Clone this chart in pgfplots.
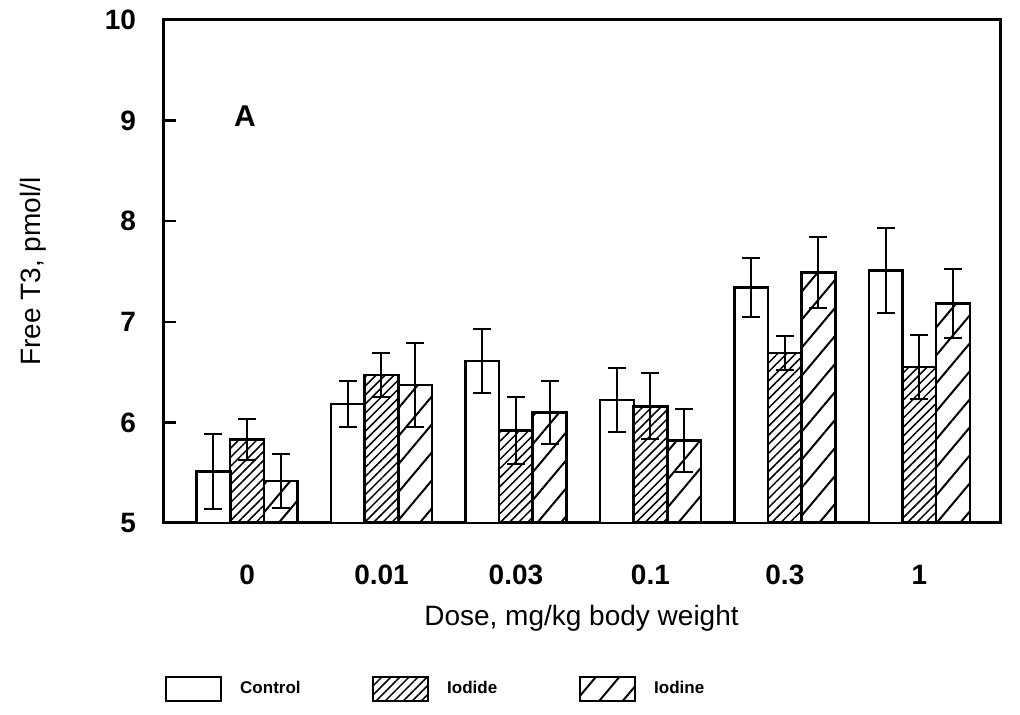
\documentclass[border=0pt]{standalone}
\usepackage{pgfplots}
\pgfplotsset{compat=1.18}
\usepackage{pgfplotstable}
\usepackage{fontspec}
\setmainfont{Liberation Sans}
\usetikzlibrary{patterns.meta}

\pgfplotstableread{
x y e
-0.25 5.51 0.37
0.75 6.18 0.23
1.75 6.61 0.32
2.75 6.22 0.32
3.75 7.34 0.29
4.75 7.51 0.42
}\control
\pgfplotstableread{
x y e
0 5.83 0.20
1 6.47 0.22
2 5.92 0.33
3 6.16 0.33
4 6.69 0.17
5 6.55 0.32
}\iodide
\pgfplotstableread{
x y e
0.25 5.42 0.27
1.25 6.37 0.42
2.25 6.10 0.31
3.25 5.82 0.31
4.25 7.49 0.35
5.25 7.18 0.34
}\iodine

\begin{document}
\begin{tikzpicture}
\begin{axis}[
  scale only axis,
  width=418.5pt, height=251.5pt,
  xmin=-0.625, xmax=5.6,
  ymin=5, ymax=10,
  ytick={5,6,7,8,9,10},
  xtick={0,1,2,3,4,5},
  xticklabels={0,0.01,0.03,0.1,0.3,1},
  major x tick style={draw=none},
  ytick pos=left,
  tick align=inside,
  major tick length=6.5pt,
  tick style={line width=1.2pt, black},
  axis line style={line width=1.5pt},
  /pgf/number format/assume math mode=true,
  ticklabel style={font=\bfseries\fontsize{14}{16}\selectfont},
  xticklabel style={yshift=-11pt},
  yticklabel style={xshift=-10pt},
  xlabel={Dose, mg/kg body weight},
  ylabel={Free T3, pmol/l},
  label style={font=\fontsize{14}{16}\selectfont},
  xlabel style={at={(axis description cs:0.5,-0.19)}, anchor=center},
  ylabel style={at={(axis description cs:-0.155,0.5)}, anchor=center},
  ybar, bar width=0.252, bar shift=0pt,
  every axis plot/.append style={draw=black, line width=1.2pt},
  error bars/y dir=both, error bars/y explicit,
  error bars/error mark options={rotate=90, mark size=4.5pt, line width=1pt, black},
  error bars/error bar style={line width=1pt, black},
  legend columns=3,
  legend style={draw=none, fill=none, at={(axis description cs:-0.005,-0.33)}, anchor=west,
    font=\bfseries\fontsize{8.5}{10}\selectfont,
    nodes={text width=42pt, align=left, inner sep=0pt},
    /tikz/every odd column/.append style={column sep=9pt},
    /tikz/every even column/.append style={column sep=24pt}},
  legend image code/.code={\draw[#1, line width=1pt] (0pt,-6pt) rectangle (27.5pt,6pt);},
]
\addplot[fill=white] table[x=x, y=y, y error=e] {\control};
\addplot[pattern={Lines[angle=45,distance=3.2pt,line width=0.75pt]}, pattern color=black] table[x=x, y=y, y error=e] {\iodide};
\addplot[pattern={Lines[angle=50,distance=9pt,line width=1pt]}, pattern color=black] table[x=x, y=y, y error=e] {\iodine};
\legend{Control,Iodide,Iodine}
\node[font=\bfseries\fontsize{15}{17}\selectfont] at (axis cs:-0.015,9.04) {A};
\coordinate (sw) at (rel axis cs:0,0);
\coordinate (ne) at (rel axis cs:1,1);
\end{axis}
\pgfresetboundingbox
\path[use as bounding box] ([xshift=-81.5pt,yshift=-96pt]sw) rectangle ([xshift=10pt,yshift=10pt]ne);
\end{tikzpicture}
\end{document}
